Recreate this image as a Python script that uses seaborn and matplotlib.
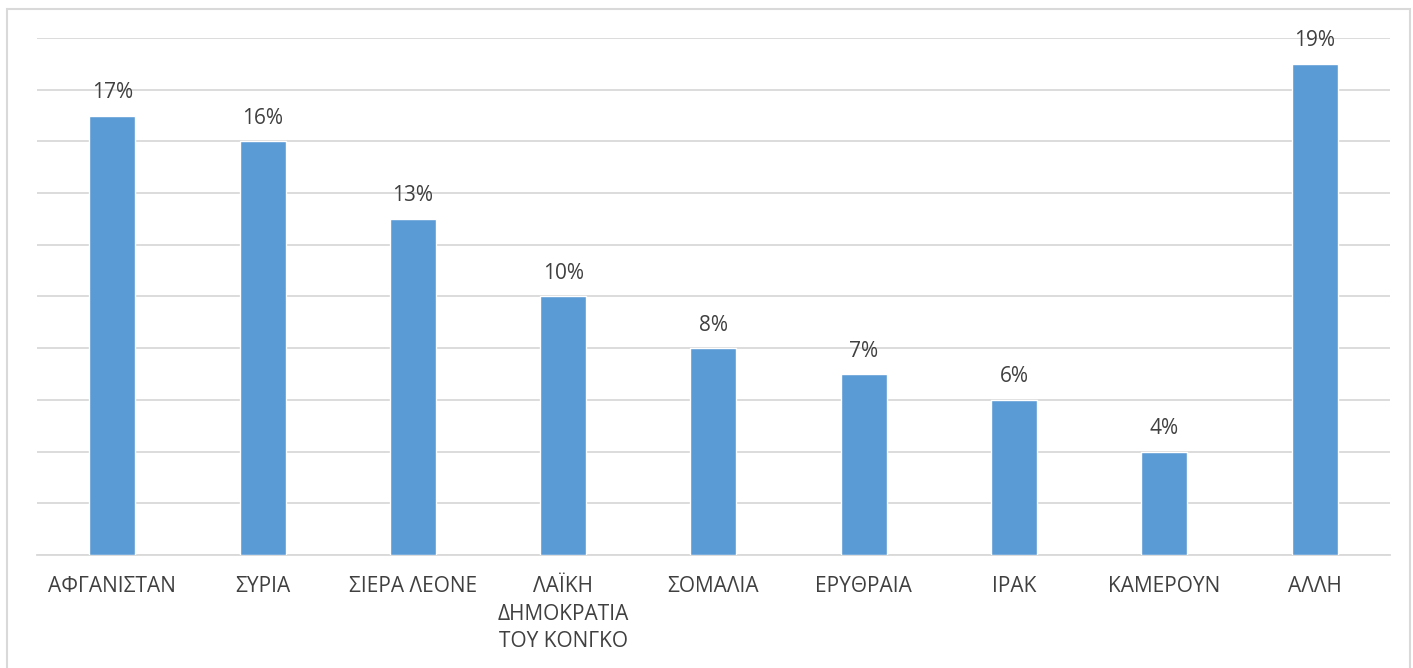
import matplotlib
matplotlib.use("Agg")
import matplotlib.pyplot as plt
import pandas as pd
import seaborn as sns
from matplotlib.patches import Rectangle

countries = [
    "ΑΦΓΑΝΙΣΤΑΝ",
    "ΣΥΡΙΑ",
    "ΣΙΕΡΑ ΛΕΟΝΕ",
    "ΛΑΪΚΗ\nΔΗΜΟΚΡΑΤΙΑ\nΤΟΥ ΚΟΝΓΚΟ",
    "ΣΟΜΑΛΙΑ",
    "ΕΡΥΘΡΑΙΑ",
    "ΙΡΑΚ",
    "ΚΑΜΕΡΟΥΝ",
    "ΑΛΛΗ",
]
shares = [17, 16, 13, 10, 8, 7, 6, 4, 19]
y_ticks = list(range(0, 21, 2))

df = pd.DataFrame({"country": countries, "share": shares})

sns.set_theme(style="white")
plt.rcParams["font.family"] = ["Open Sans", "DejaVu Sans"]
text_color = "#404040"

fig = plt.figure(figsize=(14.13, 6.68), dpi=100)
ax = fig.add_axes([0.0262, 0.1692, 0.9575, 0.7739])

sns.barplot(data=df, x="country", y="share", color="#5B9BD5", saturation=1,
            width=0.306, ax=ax, zorder=3)

ax.set_ylim(0, 20)
ax.set_yticks(y_ticks)
ax.set_yticklabels([])
ax.yaxis.grid(True, color="#d9d9d9", linewidth=1.3, zorder=0)
ax.set_axisbelow(True)
ax.tick_params(axis="both", length=0)
ax.tick_params(axis="x", labelsize=15, labelcolor=text_color, pad=15)
for lbl in ax.get_xticklabels():
    lbl.set_linespacing(1.42)
    lbl.set_verticalalignment("top")
ax.set_xlabel("")
ax.set_ylabel("")
for side in ["top", "left", "right"]:
    ax.spines[side].set_visible(False)
ax.spines["bottom"].set_color("#d9d9d9")
ax.spines["bottom"].set_linewidth(1.3)
ax.set_xlim(-0.5, len(countries) - 0.5)

ax.bar_label(ax.containers[0], fmt="%d%%", padding=9, fontsize=15,
             color=text_color)

fig.patches.append(Rectangle((0.005, -0.01), 0.993, 0.997, transform=fig.transFigure,
                             fill=False, edgecolor="#d9d9d9", linewidth=1.5))

fig.savefig("out.png", dpi=100)
